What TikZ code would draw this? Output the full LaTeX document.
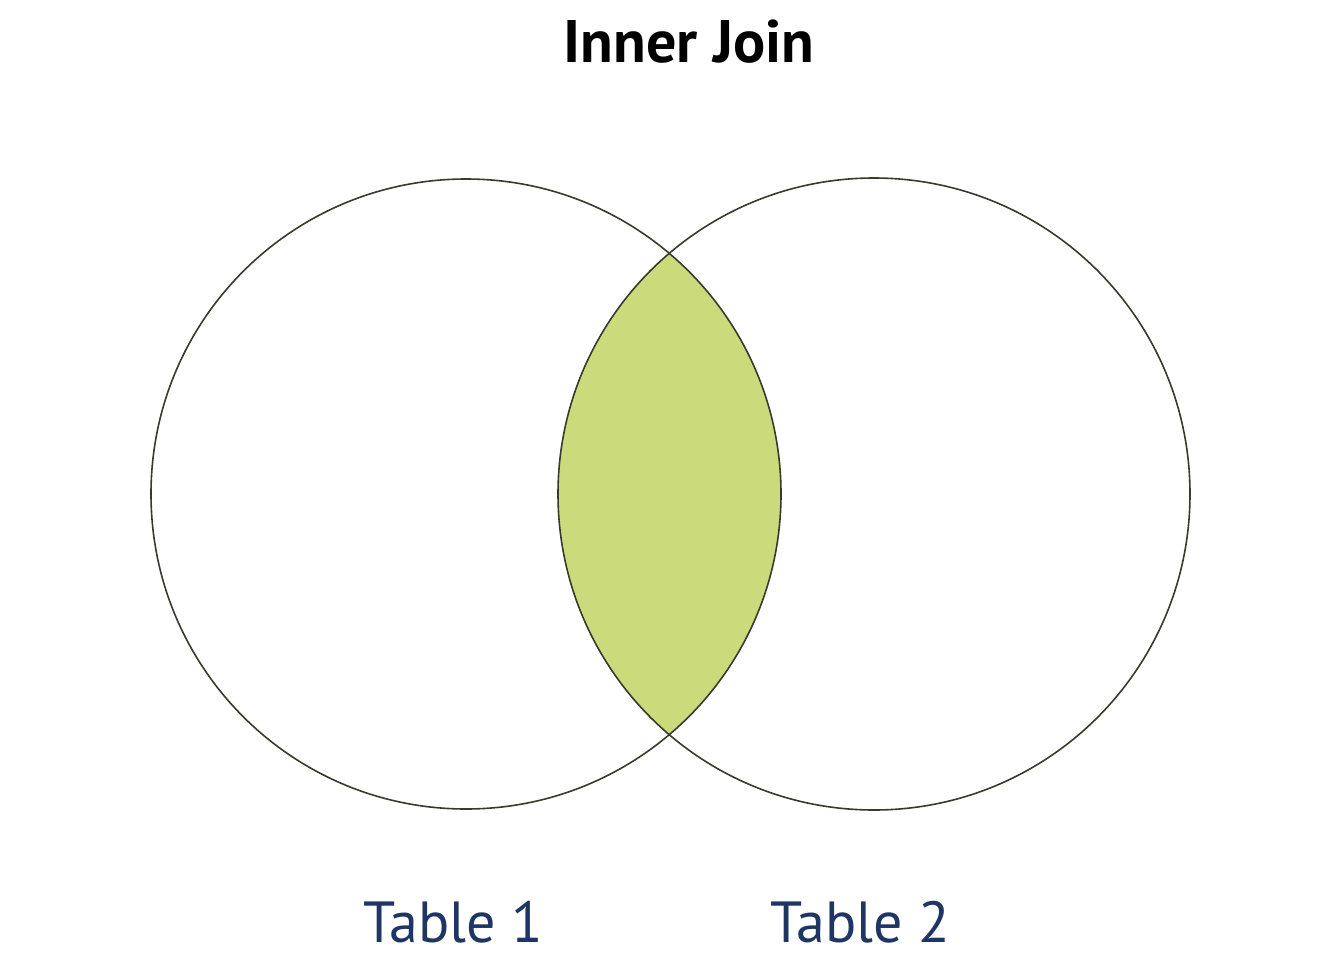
\documentclass[tikz,border=0pt]{standalone}
\usepackage{fontspec}
\setmainfont{PT Sans}
\definecolor{lens}{HTML}{CBDB7B}
\definecolor{ring}{HTML}{3A3A2C}
\definecolor{navy}{HTML}{1F3564}
\begin{document}
\begin{tikzpicture}[x=1pt,y=-1pt,
  setcircle/.style={circle,draw=ring,line width=1.6pt,inner sep=0pt,minimum size=#1},
  label/.style={text=navy,font=\fontsize{58}{66}\selectfont,anchor=base,inner sep=0pt},
  title/.style={font=\bfseries\fontsize{60}{68}\selectfont,anchor=base,inner sep=0pt}]
\useasboundingbox (0,0) rectangle (1334,956);
\begin{scope}
  \clip (466,494) circle [radius=315];
  \fill[lens] (874,494) circle [radius=316];
\end{scope}
\node[setcircle=630pt] (t1) at (466,494) {};
\node[setcircle=632pt] (t2) at (874,494) {};
\node[title] (title) at (689,62) {Inner Join};
\node[label] (l1) at (453,942) {Table 1};
\node[label] (l2) at (860,942) {Table 2};
\end{tikzpicture}
\end{document}
